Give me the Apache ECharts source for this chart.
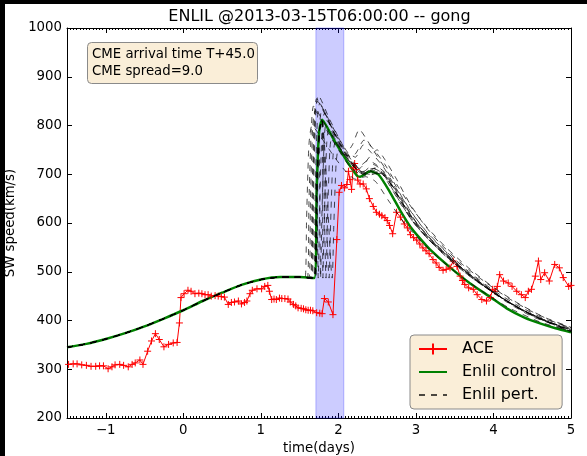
<!DOCTYPE html>
<html><head><meta charset="utf-8">
<script src="https://cdn.jsdelivr.net/npm/echarts@6/dist/echarts.min.js"></script>
<style>html,body{margin:0;padding:0;background:#fff}#c{width:587px;height:456px}</style>
</head><body><div id="c"></div>
<script>
const titleText = 'ENLIL @2013-03-15T06:00:00 -- gong';
const annotLines = ['CME arrival time T+45.0', 'CME spread=9.0'];
const legendNames = ['ACE', 'Enlil control', 'Enlil pert.'];
const arrivalSpan = [1.71, 2.07];

const aceData = [
[-1.48,310],[-1.42,311],[-1.37,311],[-1.31,309],[-1.25,308],[-1.19,306],[-1.13,306],[-1.08,307],[-1.03,307],[-0.97,301],
[-0.92,305],[-0.88,309],[-0.82,310],[-0.77,308],[-0.71,305],[-0.66,310],[-0.62,313],[-0.56,319],[-0.52,310],[-0.46,337],
[-0.41,358],[-0.36,373],[-0.31,361],[-0.25,346],[-0.19,351],[-0.13,354],[-0.08,355],[-0.05,395],[-0.03,447],[0.01,455],
[0.06,462],[0.10,460],[0.15,455],[0.20,456],[0.24,455],[0.28,453],[0.32,453],[0.36,450],[0.41,451],[0.45,450],
[0.49,449],[0.53,448],[0.58,433],[0.62,437],[0.66,438],[0.71,440],[0.75,434],[0.79,437],[0.82,440],[0.86,455],
[0.89,462],[0.95,465],[1.01,465],[1.05,470],[1.09,472],[1.11,460],[1.14,443],[1.17,444],[1.20,443],[1.24,446],
[1.27,445],[1.31,445],[1.35,444],[1.38,438],[1.42,433],[1.45,430],[1.48,426],[1.52,425],[1.55,424],[1.58,422],
[1.61,421],[1.64,421],[1.67,420],[1.72,416],[1.76,415],[1.79,414],[1.82,445],[1.87,438],[1.93,412],[1.98,566],
[2.01,663],[2.04,677],[2.08,672],[2.11,679],[2.13,706],[2.15,689],[2.17,669],[2.19,713],[2.21,722],[2.23,710],
[2.25,688],[2.28,680],[2.32,680],[2.36,670],[2.40,650],[2.45,634],[2.49,622],[2.53,618],[2.56,615],[2.60,611],
[2.63,605],[2.66,595],[2.70,578],[2.75,622],[2.80,612],[2.85,598],[2.89,590],[2.93,576],[2.97,570],[3.01,565],
[3.05,557],[3.09,549],[3.13,543],[3.17,537],[3.22,525],[3.26,518],[3.30,509],[3.35,503],[3.39,505],[3.44,508],
[3.48,522],[3.53,511],[3.57,491],[3.60,482],[3.63,474],[3.68,467],[3.74,464],[3.79,453],[3.85,443],[3.91,440],
[3.96,447],[3.99,464],[4.02,460],[4.05,470],[4.08,494],[4.13,481],[4.19,477],[4.24,470],[4.30,460],[4.36,453],
[4.41,447],[4.45,460],[4.49,464],[4.54,491],[4.58,522],[4.61,484],[4.66,498],[4.72,481],[4.79,515],[4.85,508],
[4.90,488],[4.97,470],[5.00,472]
];

const controlData = [
[-1.5,345],[-1.25,352],[-1.0,362],[-0.75,374],[-0.5,388],[-0.25,404],[0.0,421],[0.25,440],[0.5,457],[0.75,473],
[1.0,484],[1.25,489],[1.5,489],[1.69,487],[1.72,669],[1.75,785],[1.79,812],[1.94,771],[2.11,727],[2.24,697],
[2.28,695],[2.41,706],[2.52,699],[2.67,662],[2.80,625],[2.93,592],[3.06,567],[3.18,546],[3.44,509],[3.70,476],
[3.96,448],[4.17,425],[4.40,406],[4.60,394],[4.80,384],[5.0,376]
];

const pert01 = [[1.57,487],[1.59,610],[1.62,760],[1.66,800],[1.78,775],[1.95,735],[2.10,705],[2.22,690],[2.35,695],[2.48,685],[2.65,645],[2.85,600],[3.05,565],[3.30,527],[3.60,488],[3.90,455],[4.20,426],[4.60,397],[5.0,378]];
const pert02 = [[1.60,487],[1.62,640],[1.65,790],[1.68,840],[1.80,810],[1.95,770],[2.08,740],[2.18,760],[2.27,792],[2.37,770],[2.50,737],[2.67,696],[2.84,648],[3.01,607],[3.18,573],[3.40,539],[3.61,505],[3.83,477],[4.10,447],[4.40,418],[4.70,397],[5.0,384]];
const pert03 = [[1.62,487],[1.64,650],[1.67,800],[1.70,830],[1.85,790],[2.00,750],[2.15,715],[2.30,700],[2.45,712],[2.58,700],[2.75,655],[2.95,605],[3.15,568],[3.45,522],[3.75,484],[4.05,452],[4.35,424],[4.70,398],[5.0,380]];
const pert04 = [[1.64,487],[1.66,660],[1.69,820],[1.72,855],[1.85,820],[2.00,775],[2.12,745],[2.22,735],[2.32,760],[2.42,745],[2.58,715],[2.75,670],[2.95,620],[3.15,580],[3.40,540],[3.70,498],[4.00,462],[4.30,432],[4.65,404],[5.0,385]];
const pert05 = [[1.66,487],[1.68,670],[1.71,830],[1.74,862],[1.88,815],[2.02,770],[2.15,735],[2.26,715],[2.38,728],[2.50,718],[2.65,680],[2.82,635],[3.00,595],[3.25,553],[3.55,512],[3.85,474],[4.15,440],[4.50,408],[5.0,380]];
const pert06 = [[1.68,487],[1.70,660],[1.73,815],[1.76,845],[1.90,800],[2.05,758],[2.20,722],[2.32,705],[2.45,720],[2.58,705],[2.75,660],[2.95,612],[3.20,565],[3.50,520],[3.80,482],[4.10,448],[4.40,420],[4.70,398],[5.0,379]];
const pert07 = [[1.71,487],[1.73,650],[1.76,805],[1.79,835],[1.93,790],[2.08,748],[2.22,715],[2.35,702],[2.50,715],[2.62,700],[2.80,650],[3.00,602],[3.25,558],[3.55,515],[3.85,477],[4.15,443],[4.45,415],[4.75,393],[5.0,377]];
const pert08 = [[1.74,487],[1.76,640],[1.79,795],[1.82,825],[1.96,780],[2.10,740],[2.25,708],[2.40,698],[2.55,705],[2.68,680],[2.85,635],[3.05,590],[3.30,548],[3.60,506],[3.90,470],[4.20,437],[4.50,410],[4.80,390],[5.0,376]];
const pert09 = [[1.77,487],[1.79,630],[1.82,780],[1.85,810],[2.00,765],[2.15,728],[2.30,705],[2.45,712],[2.60,698],[2.75,660],[2.92,615],[3.10,578],[3.35,538],[3.65,498],[3.95,463],[4.25,432],[4.55,407],[5.0,378]];
const pert10 = [[1.80,487],[1.82,620],[1.85,765],[1.88,795],[2.02,755],[2.17,720],[2.32,700],[2.48,708],[2.62,692],[2.78,650],[2.95,605],[3.15,568],[3.40,530],[3.70,490],[4.00,457],[4.30,428],[4.60,404],[5.0,379]];
const pert11 = [[1.84,487],[1.86,610],[1.89,750],[1.92,780],[2.06,745],[2.20,715],[2.35,698],[2.50,705],[2.65,688],[2.80,648],[2.98,602],[3.20,562],[3.45,525],[3.75,485],[4.05,452],[4.35,423],[4.70,398],[5.0,381]];
const pert12 = [[1.88,487],[1.90,600],[1.93,735],[1.96,765],[2.10,735],[2.25,708],[2.40,700],[2.55,702],[2.70,680],[2.85,640],[3.02,598],[3.25,556],[3.50,520],[3.80,480],[4.10,447],[4.40,420],[4.75,395],[5.0,382]];
const pert13 = [[1.92,487],[1.94,590],[1.97,720],[2.00,750],[2.12,730],[2.27,712],[2.40,735],[2.50,750],[2.60,730],[2.75,690],[2.92,640],[3.10,598],[3.30,560],[3.60,515],[3.90,478],[4.20,445],[4.50,418],[4.80,396],[5.0,385]];
const pert14 = [[1.65,487],[1.67,665],[1.70,825],[1.73,850],[1.86,812],[2.00,768],[2.12,738],[2.22,742],[2.33,770],[2.45,752],[2.60,720],[2.78,672],[2.96,628],[3.15,590],[3.40,548],[3.70,505],[4.00,468],[4.30,437],[4.65,407],[5.0,386]];
const pertMembers = [pert01,pert02,pert03,pert04,pert05,pert06,pert07,pert08,pert09,pert10,pert11,pert12,pert13,pert14];

const FONT = '"DejaVu Sans", sans-serif';
const fmtX = v => (v < 0 ? '\u2212' + (-v) : String(v));
const fmtY = v => String(v);
const chart = echarts.init(document.getElementById('c'), null, {renderer: 'canvas'});

const pertSeries = pertMembers.map(m => ({
  name: legendNames[2], type: 'line', z: 4,
  data: controlData.filter(p => p[0] < m[0][0]).concat(m),
  symbol: 'none', showSymbol: false, smooth: 0.2,
  lineStyle: {color: 'rgba(0,0,0,0.7)', width: 1, type: [6, 6]},
  itemStyle: {color: 'rgba(0,0,0,0.7)'},
  silent: true
}));

const axisCommon = {
  type: 'value', min: -1.5, max: 5, splitNumber: 7,
  axisLine: {show: true, onZero: false, lineStyle: {color: '#000', width: 1}},
  axisTick: {show: true, inside: true, length: 5, lineStyle: {color: '#000'}},
  minorTick: {show: true, splitNumber: 24, length: 2, lineStyle: {color: '#000'}},
  splitLine: {show: false}
};
const yCommon = {
  type: 'value', min: 200, max: 1000, interval: 100,
  axisLine: {show: true, onZero: false, lineStyle: {color: '#000', width: 1}},
  axisTick: {show: true, inside: true, length: 5, lineStyle: {color: '#000'}},
  splitLine: {show: false}
};

chart.setOption({
  animation: false,
  backgroundColor: '#fff',
  grid: {left: 67, top: 28, width: 504, height: 390, containLabel: false, outerBoundsMode: 'none'},
  xAxis: [
    Object.assign({}, axisCommon, {
      position: 'bottom',
      axisLabel: {showMinLabel: false, formatter: fmtX, color: '#000', fontSize: 13.3, fontFamily: FONT, margin: 6},
      name: 'time(days)', nameLocation: 'middle', nameGap: 24,
      nameTextStyle: {color: '#000', fontSize: 13.3, fontFamily: FONT}
    }),
    Object.assign({}, axisCommon, {position: 'top', axisLabel: {show: false}})
  ],
  yAxis: [
    Object.assign({}, yCommon, {
      position: 'left',
      axisLabel: {formatter: fmtY, color: '#000', fontSize: 13.3, fontFamily: FONT, margin: 5},
      name: 'SW speed(km/s)', nameLocation: 'middle', nameGap: 40,
      nameTextStyle: {color: '#000', fontSize: 13.3, fontFamily: FONT}
    }),
    Object.assign({}, yCommon, {position: 'right', axisLabel: {show: false}})
  ],
  legend: {
    data: [
      {name: legendNames[0]},
      {name: legendNames[1], itemStyle: {opacity: 0}},
      {name: legendNames[2], itemStyle: {opacity: 0}}
    ],
    orient: 'vertical', left: 410, top: 335,
    itemWidth: 28, itemHeight: 14, itemGap: 7, padding: [6, 6, 6, 8],
    backgroundColor: 'rgb(250,238,216)', borderColor: '#8a8a8a', borderWidth: 1, borderRadius: 4,
    textStyle: {color: '#000', fontSize: 16, fontFamily: FONT, lineHeight: 16, padding: [0, 0, 0, 10]},
    selectedMode: false
  },
  graphic: [
    {type: 'rect', z: 100, shape: {x: 0, y: 0, width: 587, height: 4}, style: {fill: '#000'}},
    {type: 'rect', z: 100, shape: {x: 0, y: 0, width: 5, height: 456}, style: {fill: '#000'}},
    {type: 'text', z: 100, x: 319.5, y: 17,
     style: {text: titleText, fontSize: 16, fontFamily: FONT, fill: '#000', align: 'center', verticalAlign: 'middle'}},
    {type: 'rect', z: 50, shape: {x: 87.5, y: 42.5, width: 170, height: 41, r: 4},
     style: {fill: 'rgb(250,238,216)', stroke: '#8a8a8a', lineWidth: 1}},
    {type: 'text', z: 51, x: 92, y: 46.5,
     style: {text: annotLines.join('\n'), fontSize: 13.3, fontFamily: FONT, fill: '#000', lineHeight: 16.7, align: 'left', verticalAlign: 'top'}}
  ],
  series: [
    {
      name: legendNames[0], type: 'line', z: 3, data: aceData,
      symbol: 'path://M0,5L10,5M5,0L5,10', symbolSize: 7, showSymbol: true,
      lineStyle: {color: '#ff0000', width: 1},
      itemStyle: {color: '#ff0000', borderColor: '#ff0000', borderWidth: 1},
      markArea: {
        silent: true,
        itemStyle: {color: 'rgba(0,0,255,0.2)', borderColor: 'rgba(0,0,255,0.25)', borderWidth: 1},
        data: [[{xAxis: arrivalSpan[0]}, {xAxis: arrivalSpan[1]}]]
      }
    },
    {
      name: legendNames[1], type: 'line', z: 3, data: controlData,
      symbol: 'none', showSymbol: false, smooth: 0.2,
      lineStyle: {color: '#008000', width: 2.5}, itemStyle: {color: '#008000'}
    }
  ].concat(pertSeries)
});
</script>
</body></html>
